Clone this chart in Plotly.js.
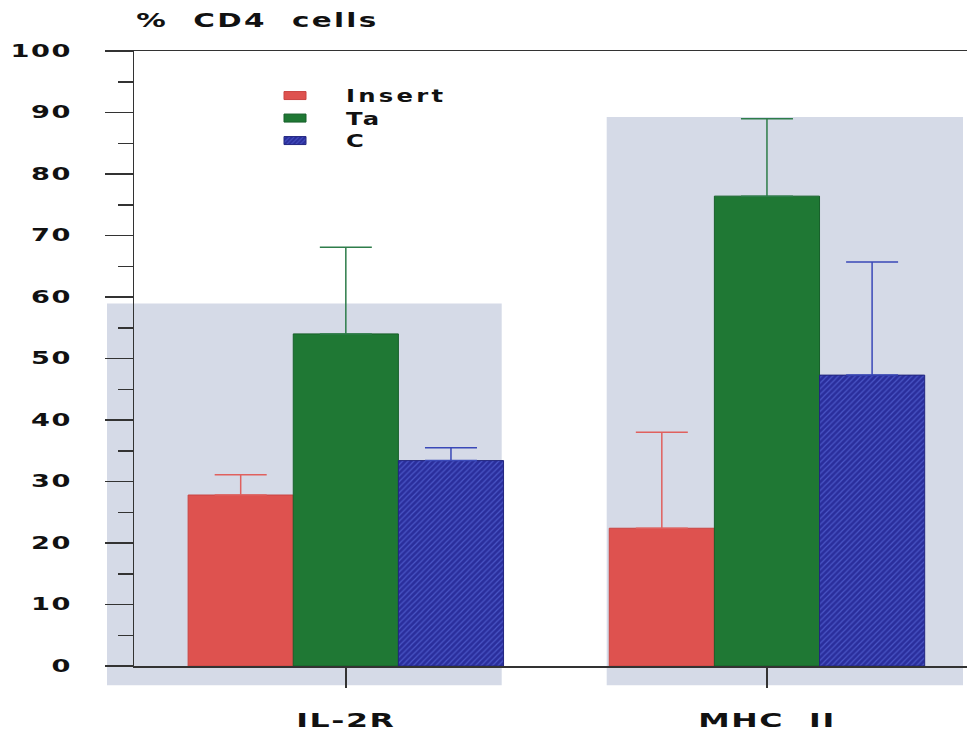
<!DOCTYPE html>
<html>
<head>
<meta charset="utf-8">
<script src="https://cdn.plot.ly/plotly-3.0.1.min.js"></script>
<style>
  html, body { margin: 0; padding: 0; background: #fff; }
  #chart { width: 967px; height: 731px; }
  /* wide, spaced lettering for all chart text */
  #chart g.ytick {
    transform: scaleX(1.6); transform-box: fill-box; transform-origin: right center;
  }
  #chart g.xtick {
    transform: scaleX(1.58); transform-box: fill-box; transform-origin: center center;
  }
  #chart g.ytick text, #chart g.xtick text { letter-spacing: 1px; }
  #chart .legendtext {
    transform: scale(1.62, 1.14); transform-box: fill-box; transform-origin: left center;
    letter-spacing: 2px;
  }
  #chart .legend .scrollbox { clip-path: none; }
  #chart .annotation-text {
    transform: scaleX(1.55); transform-box: fill-box; transform-origin: left center;
    letter-spacing: 1.5px;
  }
  /* flat legend swatches */
  #chart .legend .legendpoints path { d: path('M11,4H-11V-4H11Z'); }
</style>
</head>
<body>
<div id="chart"></div>
<script>
// Marker groups
const categories = ['IL-2R', 'MHC\u00a0\u00a0II'];

// Series: mean % of CD4 cells and upper error (SD)
const seriesNames = ['Insert', 'Ta', 'C'];
const insertMean = [27.8, 22.4];
const insertErr  = [3.3, 15.6];
const taMean     = [54.0, 76.4];
const taErr      = [14.1, 12.6];
const cMean      = [33.4, 47.3];
const cErr       = [2.1, 18.4];

// y-axis ticks
const yTickVals = [0, 10, 20, 30, 40, 50, 60, 70, 80, 90, 100];

const FONT = 'DejaVu Sans, Liberation Sans, Arial, sans-serif';

function barTrace(name, y, err, fill, edge, errColor, pattern) {
  const t = {
    type: 'bar',
    name: name,
    x: categories,
    y: y,
    marker: { color: fill, line: { color: edge, width: 1 } },
    error_y: {
      type: 'data', symmetric: false, array: err, arrayminus: err.map(() => 0),
      color: errColor, thickness: 1.5, width: 26
    },
    hoverinfo: 'skip'
  };
  if (pattern) t.marker.pattern = pattern;
  return t;
}

const traces = [
  barTrace(seriesNames[0], insertMean, insertErr, '#de524f', '#c94442', '#e0605e'),
  barTrace(seriesNames[1], taMean, taErr, '#1f7834', '#17602a', '#2e7d4a'),
  barTrace(seriesNames[2], cMean, cErr, '#2a2e9c', '#22267f', '#3a48b8',
    { shape: '/', fgcolor: '#4a56c6', bgcolor: '#2a2e9c', size: 4, solidity: 0.3 })
];

// plot area in pixels: left 134, top 50.7, bottom 665.7, right 967
const L = 134, T = 50.7, B = 665.7, R = 967;
const W = R - L, H = B - T;
const px = v => (v - L) / W;
const py = v => (B - v) / H;

const shade = '#d5dae7';
const layout = {
  width: 967, height: 731,
  margin: { l: L, r: 967 - R, t: T, b: 731 - B, pad: 0 },
  paper_bgcolor: '#ffffff',
  plot_bgcolor: 'rgba(0,0,0,0)',
  barmode: 'group',
  bargap: 0.251,
  bargroupgap: 0,
  showlegend: true,
  legend: {
    x: px(244), y: py(79), xanchor: 'left', yanchor: 'top',
    bgcolor: 'rgba(0,0,0,0)', itemwidth: 92, tracegroupgap: 0,
    font: { family: FONT, size: 15, color: '#111', weight: 'bold' },
    itemclick: false, itemdoubleclick: false
  },
  xaxis: {
    type: 'category',
    range: [-0.503, 1.475],
    showline: true, linecolor: '#333', linewidth: 1.5, mirror: true,
    ticks: 'outside', ticklen: 20, tickwidth: 1.5, tickcolor: '#333',
    ticklabelstandoff: 16,
    showgrid: false, zeroline: false,
    tickfont: { family: FONT, size: 20, color: '#111', weight: 'bold' },
    fixedrange: true
  },
  yaxis: {
    range: [0, 100],
    tickmode: 'array', tickvals: yTickVals, ticktext: yTickVals.map(String),
    showline: true, linecolor: '#333', linewidth: 1.5,
    ticks: 'outside', ticklen: 28, tickwidth: 1.5, tickcolor: '#333',
    minor: { dtick: 5, ticks: 'outside', ticklen: 15, tickwidth: 1.5, tickcolor: '#333', showgrid: false },
    ticklabelstandoff: 29,
    showgrid: false, zeroline: false,
    tickfont: { family: FONT, size: 17, color: '#111', weight: 'bold' },
    fixedrange: true
  },
  shapes: [
    { type: 'rect', xref: 'paper', yref: 'paper', layer: 'below',
      x0: px(107), x1: px(501.7), y0: py(685), y1: py(303.3),
      fillcolor: shade, line: { width: 0 } },
    { type: 'rect', xref: 'paper', yref: 'paper', layer: 'below',
      x0: px(606.7), x1: px(963), y0: py(685), y1: py(116.7),
      fillcolor: shade, line: { width: 0 } }
  ],
  annotations: [
    { text: '%\u00a0\u00a0CD4\u00a0\u00a0cells', xref: 'paper', yref: 'paper',
      x: px(144), y: py(20), xanchor: 'left', yanchor: 'middle', showarrow: false,
      font: { family: FONT, size: 19, color: '#111', weight: 'bold' } }
  ]
};

Plotly.newPlot('chart', traces, layout, { displayModeBar: false, staticPlot: true });
</script>
</body>
</html>
